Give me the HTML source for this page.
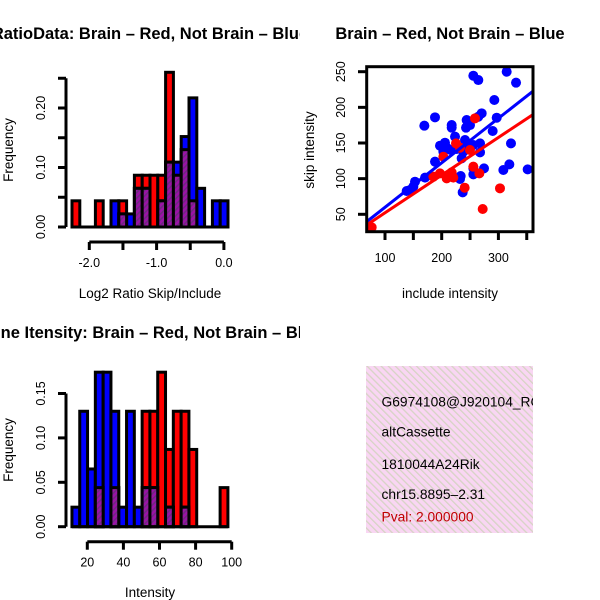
<!DOCTYPE html>
<html><head><meta charset="utf-8"><style>
html,body{margin:0;padding:0;background:#fff;}
svg{display:block;font-family:"Liberation Sans",sans-serif;}
</style></head><body>
<svg id="chart" width="600" height="600" viewBox="0 0 600 600">
<defs>
<pattern id="purp" patternUnits="userSpaceOnUse" width="4" height="4" patternTransform="rotate(45)">
<rect width="4" height="4" fill="#9b12a6"/><rect width="1.6" height="4" fill="#6e2a80"/>
</pattern>
<pattern id="pink" patternUnits="userSpaceOnUse" width="5" height="5" patternTransform="rotate(-45)">
<rect width="5" height="5" fill="#f9d6f3"/><rect width="1.3" height="5" fill="#d6d4c4"/>
</pattern>
<clipPath id="infoclip"><rect x="366" y="366" width="167" height="167"/></clipPath>
<clipPath id="leftclip"><rect x="0" y="0" width="300" height="600"/></clipPath>
</defs>
<g clip-path="url(#leftclip)">
<text x="150" y="39" font-size="16.5" font-weight="bold" text-anchor="middle">RatioData: Brain – Red, Not Brain – Blue</text>
<text x="146" y="338" font-size="16.5" font-weight="bold" text-anchor="middle">Spline Itensity: Brain – Red, Not Brain – Blue</text>
</g>
<text x="150" y="298" font-size="13.5" text-anchor="middle">Log2 Ratio Skip/Include</text>
<text transform="translate(13,150) rotate(-90)" font-size="13.5" text-anchor="middle">Frequency</text>
<text x="450" y="39" font-size="16.5" font-weight="bold" text-anchor="middle">Brain – Red, Not Brain – Blue</text>
<text x="450" y="298" font-size="13.5" text-anchor="middle">include intensity</text>
<text transform="translate(314,150) rotate(-90)" font-size="13.5" text-anchor="middle">skip intensity</text>
<text x="150" y="597" font-size="13.5" text-anchor="middle">Intensity</text>
<text transform="translate(13,450) rotate(-90)" font-size="13.5" text-anchor="middle">Frequency</text>
<g>
<rect x="366" y="366" width="167" height="167" fill="url(#pink)"/>
<g clip-path="url(#infoclip)" font-size="13.8">
<text x="381.5" y="406.5">G6974108@J920104_RC</text>
<text x="381.5" y="436.5">altCassette</text>
<text x="381.5" y="469">1810044A24Rik</text>
<text x="381.5" y="499">chr15.8895–2.31</text>
<text x="381.5" y="521.5" fill="#c00000">Pval: 2.000000</text>
</g>
</g>
</svg>
<script>
// ---- top histogram data (log2 ratio) ----
const ratioBinStart = -2.257;
const ratioBinWidth = 0.1159;
const ratioRed  = [0.044,0,0,0.044,0,0,0.044,0,0.087,0.087,0.087,0.087,0.26,0.087,0.13,0.044,0,0,0,0];
const ratioBlue = [0,0,0,0,0,0.044,0.022,0.022,0.065,0.065,0,0.044,0.109,0.109,0.152,0.217,0.065,0,0.044,0.044];
const ratioYTicks = [0,0.05,0.10,0.15,0.20,0.25];
const ratioYLabels = ["0.00","","0.10","","0.20",""];
const ratioXTicks = [-2.0,-1.5,-1.0,-0.5,0.0];
const ratioXLabels = ["-2.0","","-1.0","","0.0"];
// ---- bottom histogram data (intensity) ----
const intBinStart = 11.5;
const intBinWidth = 4.32;
const intRed  = [0,0,0,0.044,0,0.044,0,0,0,0.13,0.13,0.174,0.087,0.13,0.13,0.087,0,0,0,0.044];
const intBlue = [0.022,0.13,0.065,0.174,0.174,0.13,0.022,0.13,0.022,0.044,0.044,0,0.022,0,0.022,0,0,0,0,0];
const intYTicks = [0,0.05,0.10,0.15];
const intYLabels = ["0.00","0.05","0.10","0.15"];
const intXTicks = [20,40,60,80,100];
// ---- scatter data ----
const blueX = [255.8,264.6,314.6,331.1,292.8,270.5,264.6,297,188.2,169.4,217.6,217.6,244,249.9,242.9,289.9,223.5,197,205.8,208.8,215.8,226.4,241.1,244,255.8,267.6,267.6,238.2,188.2,170.6,152.9,150,144.1,138.2,233.5,232.3,237,255.8,255.8,274.6,308.7,319.3,322.2,351.6,202.9,235.2];
const blueY = [244.4,238.3,250,234.6,210.3,191.6,186.9,185.5,186,174.3,175.2,171.5,182.2,175.2,171.5,166.8,158.9,146.2,150.4,143.4,140.2,141.6,154.2,149.5,147.2,149.5,136.9,137.8,123.8,101.4,95.7,88.7,84.1,82.7,103.7,99.5,80.8,114.4,106,114.4,112.1,120,149.5,113,137.8,128.5];
const redX = [76.5,272.3,302.8,240.5,185.3,197,208.8,217.6,220.5,225.2,232.3,249.9,255.8,266.4,202.9,258.7];
const redY = [31.7,57.4,86.4,87.3,102.8,107.4,100.4,108.8,101.4,149.5,143.4,140.2,116.8,107.4,130.8,184.6];
const fitIntercept = [-2.6,-0.7]; // blue, red
const fitSlope = [0.624,0.528];
const scatXTicks = [100,150,200,250,300,350];
const scatXLabels = ["100","","200","","300",""];
const scatYTicks = [50,100,150,200,250];

const svg = document.getElementById('chart');
const NS = 'http://www.w3.org/2000/svg';
function mk(tag, attrs, parent){const e=document.createElementNS(NS,tag);for(const k in attrs)e.setAttribute(k,attrs[k]);(parent||svg).appendChild(e);return e;}
function txt(s, attrs, parent){const e=mk('text',attrs,parent);e.textContent=s;return e;}

function histogram(opts){
  const g = mk('g',{});
  
  
  const X = v => opts.x0 + (v - opts.xa) * opts.xs;
  const Y = v => opts.y0 - v * opts.ys;
  const n = opts.red.length;
  const draw = (arr, fill, nm) => {
    for(let i=0;i<n;i++){
      if(arr[i]<=0) continue;
      const xl = X(opts.bs + i*opts.bw), xr = X(opts.bs + (i+1)*opts.bw);
      const r = mk('rect',{x:xl,y:Y(arr[i]),width:xr-xl,height:Y(0)-Y(arr[i]),fill:fill,stroke:'#000','stroke-width':3},g);
      
      
    }
  };
  draw(opts.red,'#ff0000','red-bar');
  draw(opts.blue,'#0000ff','blue-bar');
  draw(opts.red.map((v,i)=>Math.min(v,opts.blue[i])),'url(#purp)','overlap-bar');
  mk('line',{x1:X(opts.bs),x2:X(opts.bs+n*opts.bw),y1:Y(0),y2:Y(0),stroke:'#000','stroke-width':3},g);
  const yt = opts.yticks;
  mk('line',{x1:66,x2:66,y1:Y(yt[0]),y2:Y(yt[yt.length-1]),stroke:'#000','stroke-width':3},g);
  yt.forEach((v,i)=>{
    mk('line',{x1:58,x2:66,y1:Y(v),y2:Y(v),stroke:'#000','stroke-width':3},g);
    if(opts.ylabels[i]){
      const t=txt(opts.ylabels[i],{x:0,y:0,'font-size':12.5,'text-anchor':'middle',transform:`translate(45,${Y(v)}) rotate(-90)`},g);
      
      
    }
  });
  const xt = opts.xticks, ay = opts.y0 + 15;
  mk('line',{x1:X(xt[0]),x2:X(xt[xt.length-1]),y1:ay,y2:ay,stroke:'#000','stroke-width':3},g);
  xt.forEach((v,i)=>{
    mk('line',{x1:X(v),x2:X(v),y1:ay,y2:ay+8,stroke:'#000','stroke-width':3},g);
    if(opts.xlabels[i]){
      const t=txt(opts.xlabels[i],{x:X(v),y:ay+25,'font-size':12.5,'text-anchor':'middle'},g);
      
      
    }
  });
}

histogram({name:'ratio-histogram',red:ratioRed,blue:ratioBlue,bs:ratioBinStart,bw:ratioBinWidth,
  x0:89.3,xa:-2.0,xs:67.3,y0:227,ys:595,yticks:ratioYTicks,ylabels:ratioYLabels,xticks:ratioXTicks,xlabels:ratioXLabels});
histogram({name:'intensity-histogram',red:intRed,blue:intBlue,bs:intBinStart,bw:intBinWidth,
  x0:87.3,xa:20,xs:1.805,y0:526.7,ys:888,yticks:intYTicks,ylabels:intYLabels,xticks:intXTicks,xlabels:intXTicks.map(String)});

(function(){
  const g = mk('g',{});
  
  
  const X = v => 328.3 + v*0.567;
  const Y = v => 71.7 + (250 - v)*0.713;
  const cp = mk('clipPath',{id:'scclip'},g); mk('rect',{x:366.7,y:66.7,width:166.3,height:165},cp);
  const inner = mk('g',{'clip-path':'url(#scclip)'},g);
  blueX.forEach((x,i)=>{const c=mk('circle',{cx:X(x),cy:Y(blueY[i]),r:5,fill:'#0000ff'},inner);
    
    });
  redX.forEach((x,i)=>{const c=mk('circle',{cx:X(x),cy:Y(redY[i]),r:5,fill:'#ff0000'},inner);
    
    });
  const cols=['#0000ff','#ff0000'];
  fitSlope.forEach((s,i)=>{const x1=60,x2=370;
    const l=mk('line',{x1:X(x1),x2:X(x2),y1:Y(fitIntercept[i]+s*x1),y2:Y(fitIntercept[i]+s*x2),stroke:cols[i],'stroke-width':3},inner);
    
    });
  mk('rect',{x:366.7,y:66.7,width:166.3,height:165,fill:'none',stroke:'#000','stroke-width':3},g);
  scatYTicks.forEach(v=>{
    mk('line',{x1:358,x2:366.7,y1:Y(v),y2:Y(v),stroke:'#000','stroke-width':3},g);
    const t=txt(String(v),{x:0,y:0,'font-size':12.5,'text-anchor':'middle',transform:`translate(345,${Y(v)}) rotate(-90)`},g);
    
    
  });
  scatXTicks.forEach((v,i)=>{
    mk('line',{x1:X(v),x2:X(v),y1:231.7,y2:240,stroke:'#000','stroke-width':3},g);
    if(scatXLabels[i]){const t=txt(scatXLabels[i],{x:X(v),y:262,'font-size':12.5,'text-anchor':'middle'},g);
      
      }
  });
})();
</script>
</body></html>
